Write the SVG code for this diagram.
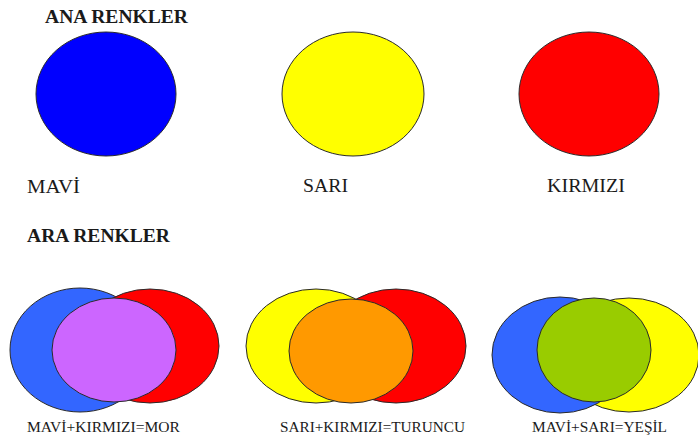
<svg xmlns="http://www.w3.org/2000/svg" width="698" height="439" viewBox="0 0 698 439">
<style>
text{font-family:'Liberation Serif','DejaVu Serif',serif;font-stretch:condensed;fill:#1a1a1a}
.h{font-weight:bold;font-size:19px}
.l{font-size:19px}
.s{font-size:14.5px}
ellipse{stroke:#2a2a2a;stroke-width:1}
.blue{fill:#0000FF}
.blue2{fill:#3366FF}
.yel{fill:#FFFF00}
.red{fill:#FF0000}
.pur{fill:#CC66FF}
.ora{fill:#FF9900}
.grn{fill:#99CC00}
</style>
<rect width="698" height="439" fill="#fff"/>
<text class="h" x="45" y="23" textLength="143" lengthAdjust="spacingAndGlyphs">ANA RENKLER</text>
<g id="mavi">
<ellipse class="blue" cx="106" cy="94" rx="70" ry="62"/>
<text class="l" x="27" y="193" textLength="53" lengthAdjust="spacingAndGlyphs">MAVİ</text>
</g>
<g id="sari">
<ellipse class="yel" cx="353" cy="94" rx="71" ry="62"/>
<text class="l" x="303" y="192" textLength="45" lengthAdjust="spacingAndGlyphs">SARI</text>
</g>
<g id="kirmizi">
<ellipse class="red" cx="589" cy="94" rx="70" ry="62"/>
<text class="l" x="547" y="192" textLength="78" lengthAdjust="spacingAndGlyphs">KIRMIZI</text>
</g>
<text class="h" x="27" y="242" textLength="143" lengthAdjust="spacingAndGlyphs">ARA RENKLER</text>
<g id="mor">
<ellipse class="blue2" cx="80" cy="350" rx="70" ry="62"/>
<ellipse class="red" cx="150" cy="346" rx="69" ry="57"/>
<ellipse class="pur" cx="114" cy="350" rx="62" ry="52"/>
<text class="s" x="27" y="432" textLength="153" lengthAdjust="spacingAndGlyphs">MAVİ+KIRMIZI=MOR</text>
</g>
<g id="turuncu">
<ellipse class="yel" cx="316" cy="346" rx="70" ry="57"/>
<ellipse class="red" cx="396" cy="346" rx="70" ry="57"/>
<ellipse class="ora" cx="351" cy="351" rx="62" ry="52"/>
<text class="s" x="280" y="432" textLength="185" lengthAdjust="spacingAndGlyphs">SARI+KIRMIZI=TURUNCU</text>
</g>
<g id="yesil">
<ellipse class="yel" cx="629" cy="355" rx="70" ry="57"/>
<ellipse class="blue2" cx="560" cy="355" rx="68" ry="58"/>
<ellipse class="grn" cx="594" cy="350" rx="57" ry="52"/>
<text class="s" x="532" y="432" textLength="135" lengthAdjust="spacingAndGlyphs">MAVİ+SARI=YEŞİL</text>
</g>
</svg>
